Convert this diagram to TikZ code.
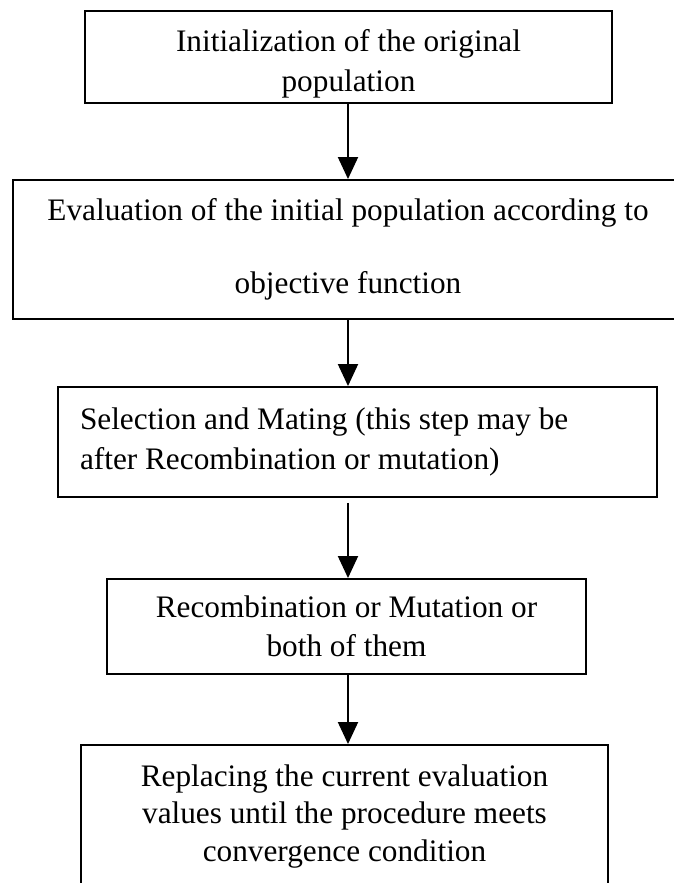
\documentclass[tikz,border=0pt]{standalone}
\usepackage{fontspec}
\setmainfont{Liberation Serif}
\usetikzlibrary{arrows.meta}

\begin{document}
\begin{tikzpicture}[>={Triangle[length=0.44cm,width=0.40cm]},
  every node/.style={font=\fontsize{17.8}{22.5}\selectfont},
  flowbox/.style={draw, line width=1.1pt, align=center, inner sep=0pt}]
  \useasboundingbox (0,0) rectangle (13.48,-17.66);
  \coordinate (spine) at (6.96,0);

  % Steps of the algorithm
  \node[flowbox, minimum width=10.54cm, minimum height=1.84cm] (init) at (6.97,-1.14)
    {\rule{0pt}{0.71cm}Initialization of the original\\population};
  \node[flowbox, minimum width=13.40cm, minimum height=2.78cm,
        font=\fontsize{17.8}{41.5}\selectfont] (eval) at (6.96,-4.99)
    {Evaluation of the initial population according to\\objective function};
  \node[flowbox, align=flush left, text width=11.10cm, inner xsep=0.44cm,
        minimum height=2.20cm] (select) at (7.15,-8.84)
    {Selection and Mating (this step may be\\after Recombination or mutation)};
  \node[flowbox, minimum width=9.58cm, minimum height=1.90cm] (recomb) at (6.93,-12.53)
    {Recombination or Mutation or\\both of them};
  \node[flowbox, minimum width=10.54cm, minimum height=2.86cm,
        font=\fontsize{17.8}{21.3}\selectfont] (replace) at (6.89,-16.33)
    {Replacing the current evaluation\\values until the procedure meets\\convergence condition};

  % Arrows
  \draw[line width=1.1pt,->] (init.south -| spine) -- (eval.north -| spine);
  \draw[line width=1.1pt,->] (eval.south -| spine) -- (select.north -| spine);
  \draw[line width=1.1pt,->,shorten <=0.1cm] (select.south -| spine) -- (recomb.north -| spine);
  \draw[line width=1.1pt,->] (recomb.south -| spine) -- (replace.north -| spine);
\end{tikzpicture}
\end{document}
